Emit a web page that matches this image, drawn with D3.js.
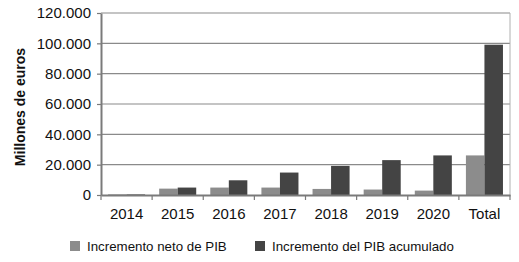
<!DOCTYPE html>
<html>
<head>
<meta charset="utf-8">
<script src="https://cdn.jsdelivr.net/npm/d3@7"></script>
<style>
  body { margin: 0; background: #fff; }
  svg { font-family: "Liberation Sans", Arial, sans-serif; }
</style>
</head>
<body>
<div id="chart"></div>
<script>
// Data
const categories = ["2014", "2015", "2016", "2017", "2018", "2019", "2020", "Total"];
const netoPIB = [400, 4200, 4900, 4900, 4000, 3600, 2900, 26100];
const acumuladoPIB = [400, 4900, 9700, 14800, 19200, 23000, 26100, 99100];
const seriesNames = ["Incremento neto de PIB", "Incremento del PIB acumulado"];
const seriesColors = ["#8c8c8c", "#444444"];
const yTicks = [0, 20000, 40000, 60000, 80000, 100000, 120000];

const W = 519, H = 262;
const margin = { top: 13, right: 9, bottom: 67, left: 101 };
const width = W - margin.left - margin.right;
const height = H - margin.top - margin.bottom;

const svg = d3.select("#chart").append("svg")
    .attr("width", W)
    .attr("height", H);

const g = svg.append("g")
    .attr("transform", `translate(${margin.left},${margin.top})`);

const x = d3.scaleBand()
    .domain(categories)
    .range([0, width]);

const x1 = d3.scaleBand()
    .domain([0, 1])
    .range([0, x.bandwidth()])
    .paddingInner(0)
    .paddingOuter(0.38);

const y = d3.scaleLinear()
    .domain([0, 120000])
    .range([height, 0]);

const fmt = d => d3.format(",")(d).replace(/,/g, ".");

// gridlines
g.selectAll(".grid")
    .data(yTicks.filter(d => d > 0))
    .enter().append("line")
    .attr("class", "grid")
    .attr("x1", 0)
    .attr("x2", width)
    .attr("y1", d => y(d))
    .attr("y2", d => y(d))
    .attr("stroke", "#8a8a8a")
    .attr("stroke-width", 1.2);

// right border
g.append("line")
    .attr("x1", width).attr("x2", width)
    .attr("y1", 0).attr("y2", height)
    .attr("stroke", "#b0b0b0")
    .attr("stroke-width", 1);

// bars
const rows = categories.map((c, i) => ({ cat: c, vals: [netoPIB[i], acumuladoPIB[i]] }));
const groups = g.selectAll(".grp")
    .data(rows)
    .enter().append("g")
    .attr("transform", d => `translate(${x(d.cat)},0)`);

groups.selectAll("rect")
    .data(d => d.vals.map((v, k) => ({ v, k })))
    .enter().append("rect")
    .attr("x", d => x1(d.k))
    .attr("width", x1.bandwidth())
    .attr("y", d => y(d.v))
    .attr("height", d => height - y(d.v))
    .attr("fill", d => seriesColors[d.k]);

// y axis
const yAxis = g.append("g")
    .call(d3.axisLeft(y).tickValues(yTicks).tickFormat(fmt).tickSize(4).tickSizeOuter(0));
yAxis.select(".domain").attr("stroke", "#7a7a7a").attr("stroke-width", 2);
yAxis.selectAll(".tick line").attr("stroke", "#7a7a7a").attr("stroke-width", 1.2);
yAxis.selectAll(".tick text")
    .attr("x", -10)
    .attr("fill", "#111")
    .style("font-size", "15px");

// x axis
const xAxis = g.append("g")
    .attr("transform", `translate(0,${height})`)
    .call(d3.axisBottom(x).tickSize(0).tickSizeOuter(0));
xAxis.select(".domain").attr("stroke", "#7a7a7a").attr("stroke-width", 2);
xAxis.selectAll(".tick text")
    .attr("y", 13)
    .attr("fill", "#111")
    .style("font-size", "15px");

// x tick marks at category boundaries
g.selectAll(".xb")
    .data(categories.map(c => x(c)).concat([width]))
    .enter().append("line")
    .attr("x1", d => d).attr("x2", d => d)
    .attr("y1", height).attr("y2", height + 5)
    .attr("stroke", "#7a7a7a")
    .attr("stroke-width", 1.2);

// y axis title
svg.append("text")
    .attr("transform", "translate(25,107) rotate(-90)")
    .attr("text-anchor", "middle")
    .style("font-size", "14px")
    .style("font-weight", "bold")
    .attr("fill", "#111")
    .text("Millones de euros");

// legend
const legendX = [70, 255];
const legend = svg.selectAll(".leg")
    .data(seriesNames)
    .enter().append("g")
    .attr("transform", (d, i) => `translate(${legendX[i]},241)`);
legend.append("rect")
    .attr("width", 10).attr("height", 10)
    .attr("fill", (d, i) => seriesColors[i]);
legend.append("text")
    .attr("x", 17)
    .attr("y", 10)
    .style("font-size", "13.3px")
    .attr("fill", "#111")
    .text(d => d);
</script>
</body>
</html>
